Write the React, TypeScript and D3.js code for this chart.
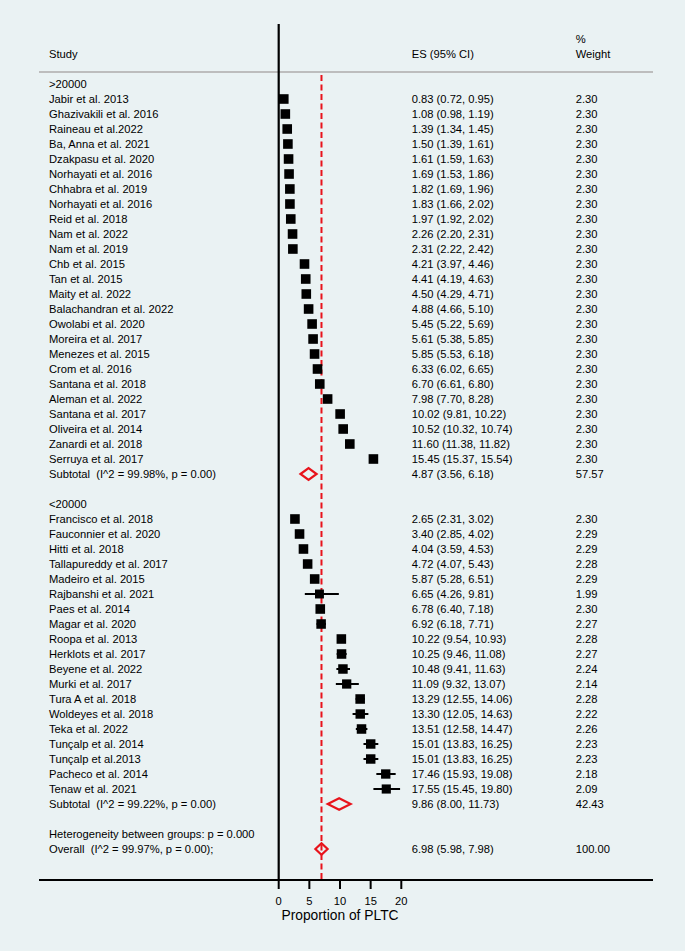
import React from "react";
import * as d3 from "d3";

const group1Label = ">20000";
const group1Studies = [
  "Jabir et al. 2013", "Ghazivakili et al. 2016", "Raineau et al.2022", "Ba, Anna et al. 2021",
  "Dzakpasu et al. 2020", "Norhayati et al. 2016", "Chhabra et al. 2019", "Norhayati et al. 2016",
  "Reid et al. 2018", "Nam et al. 2022", "Nam et al. 2019", "Chb et al. 2015", "Tan et al. 2015",
  "Maity et al. 2022", "Balachandran et al. 2022", "Owolabi et al. 2020", "Moreira et al. 2017",
  "Menezes et al. 2015", "Crom et al. 2016", "Santana et al. 2018", "Aleman et al. 2022",
  "Santana et al. 2017", "Oliveira et al. 2014", "Zanardi et al. 2018", "Serruya et al. 2017",
];
const group1ES = [0.83, 1.08, 1.39, 1.50, 1.61, 1.69, 1.82, 1.83, 1.97, 2.26, 2.31, 4.21, 4.41, 4.50, 4.88, 5.45, 5.61, 5.85, 6.33, 6.70, 7.98, 10.02, 10.52, 11.60, 15.45];
const group1Lo = [0.72, 0.98, 1.34, 1.39, 1.59, 1.53, 1.69, 1.66, 1.92, 2.20, 2.22, 3.97, 4.19, 4.29, 4.66, 5.22, 5.38, 5.53, 6.02, 6.61, 7.70, 9.81, 10.32, 11.38, 15.37];
const group1Hi = [0.95, 1.19, 1.45, 1.61, 1.63, 1.86, 1.96, 2.02, 2.02, 2.31, 2.42, 4.46, 4.63, 4.71, 5.10, 5.69, 5.85, 6.18, 6.65, 6.80, 8.28, 10.22, 10.74, 11.82, 15.54];
const group1Weight = [2.30, 2.30, 2.30, 2.30, 2.30, 2.30, 2.30, 2.30, 2.30, 2.30, 2.30, 2.30, 2.30, 2.30, 2.30, 2.30, 2.30, 2.30, 2.30, 2.30, 2.30, 2.30, 2.30, 2.30, 2.30];
const group1Subtotal = { label: "Subtotal  (I^2 = 99.98%, p = 0.00)", es: 4.87, lo: 3.56, hi: 6.18, w: 57.57 };

const group2Label = "<20000";
const group2Studies = [
  "Francisco et al. 2018", "Fauconnier et al. 2020", "Hitti et al. 2018", "Tallapureddy et al. 2017",
  "Madeiro et al. 2015", "Rajbanshi et al. 2021", "Paes et al. 2014", "Magar et al. 2020",
  "Roopa et al. 2013", "Herklots et al. 2017", "Beyene et al. 2022", "Murki et al. 2017",
  "Tura A et al. 2018", "Woldeyes et al. 2018", "Teka et al. 2022", "Tunçalp et al. 2014",
  "Tunçalp et al.2013", "Pacheco et al. 2014", "Tenaw et al. 2021",
];
const group2ES = [2.65, 3.40, 4.04, 4.72, 5.87, 6.65, 6.78, 6.92, 10.22, 10.25, 10.48, 11.09, 13.29, 13.30, 13.51, 15.01, 15.01, 17.46, 17.55];
const group2Lo = [2.31, 2.85, 3.59, 4.07, 5.28, 4.26, 6.40, 6.18, 9.54, 9.46, 9.41, 9.32, 12.55, 12.05, 12.58, 13.83, 13.83, 15.93, 15.45];
const group2Hi = [3.02, 4.02, 4.53, 5.43, 6.51, 9.81, 7.18, 7.71, 10.93, 11.08, 11.63, 13.07, 14.06, 14.63, 14.47, 16.25, 16.25, 19.08, 19.80];
const group2Weight = [2.30, 2.29, 2.29, 2.28, 2.29, 1.99, 2.30, 2.27, 2.28, 2.27, 2.24, 2.14, 2.28, 2.22, 2.26, 2.23, 2.23, 2.18, 2.09];
const group2Subtotal = { label: "Subtotal  (I^2 = 99.22%, p = 0.00)", es: 9.86, lo: 8.00, hi: 11.73, w: 42.43 };

const heterogeneityText = "Heterogeneity between groups: p = 0.000";
const overall = { label: "Overall  (I^2 = 99.97%, p = 0.00);", es: 6.98, lo: 5.98, hi: 7.98, w: 100.0 };

const xTicks = [0, 5, 10, 15, 20];
const xTitle = "Proportion of PLTC";

type Row =
  | { kind: "label"; text: string }
  | { kind: "study"; text: string; es: number; lo: number; hi: number; w: number }
  | { kind: "diamond"; text: string; es: number; lo: number; hi: number; w: number }
  | { kind: "blank" };

function buildRows(): Row[] {
  const rows: Row[] = [];
  rows.push({ kind: "label", text: group1Label });
  group1Studies.forEach((s, i) =>
    rows.push({ kind: "study", text: s, es: group1ES[i], lo: group1Lo[i], hi: group1Hi[i], w: group1Weight[i] })
  );
  rows.push({ kind: "diamond", text: group1Subtotal.label, es: group1Subtotal.es, lo: group1Subtotal.lo, hi: group1Subtotal.hi, w: group1Subtotal.w });
  rows.push({ kind: "blank" });
  rows.push({ kind: "label", text: group2Label });
  group2Studies.forEach((s, i) =>
    rows.push({ kind: "study", text: s, es: group2ES[i], lo: group2Lo[i], hi: group2Hi[i], w: group2Weight[i] })
  );
  rows.push({ kind: "diamond", text: group2Subtotal.label, es: group2Subtotal.es, lo: group2Subtotal.lo, hi: group2Subtotal.hi, w: group2Subtotal.w });
  rows.push({ kind: "blank" });
  rows.push({ kind: "label", text: heterogeneityText });
  rows.push({ kind: "diamond", text: overall.label, es: overall.es, lo: overall.lo, hi: overall.hi, w: overall.w });
  return rows;
}

export default function App() {
  const W = 685;
  const H = 951;
  const rows = buildRows();
  const x = d3.scaleLinear().domain([0, 20]).range([278.7, 401.3]);
  const y = d3.scaleLinear().domain([0, 1]).range([84, 99]);
  const font = "'Liberation Sans', Arial, Helvetica, sans-serif";
  const fs = 11.2;
  const textX = 49;
  const esX = 411.7;
  const wX = 575.7;
  const axisY = 880;
  const red = "#e8131b";
  const baseSide = 9.6;
  const fmt = d3.format(".2f");

  return (
    <svg
      width={W}
      height={H}
      style={{ position: "absolute", left: 0, top: 0, display: "block" }}
      fontFamily={font}
    >
      <rect x={0} y={0} width={W} height={H} fill="#eaf2f3" />
      {/* header */}
      <text x={textX} y={58} fontSize={fs} fill="#000">Study</text>
      <text x={esX} y={58} fontSize={fs} fill="#000">ES (95% CI)</text>
      <text x={wX} y={43} fontSize={fs} fill="#000">%</text>
      <text x={wX} y={58} fontSize={fs} fill="#000">Weight</text>
      <line x1={39} x2={653} y1={72} y2={72} stroke="#bdbdbd" strokeWidth={2} />

      {/* null line (x=0) */}
      <line x1={x(0)} x2={x(0)} y1={24} y2={axisY} stroke="#000" strokeWidth={2.2} />
      {/* overall dashed line */}
      <line x1={x(overall.es)} x2={x(overall.es)} y1={75} y2={axisY} stroke={red} strokeWidth={2} strokeDasharray="6,3.5" />

      {rows.map((r, i) => {
        const cy = y(i);
        const ty = cy + 4;
        if (r.kind === "blank") return null;
        if (r.kind === "label") {
          return (
            <text key={i} x={textX} y={ty} fontSize={fs} fill="#000">{r.text}</text>
          );
        }
        const esText = `${fmt(r.es)} (${fmt(r.lo)}, ${fmt(r.hi)})`;
        const common = (
          <>
            <text x={textX} y={ty} fontSize={fs} fill="#000" style={{ whiteSpace: "pre" }}>{r.text}</text>
            <text x={esX} y={ty} fontSize={fs} fill="#000">{esText}</text>
            <text x={wX} y={ty} fontSize={fs} fill="#000">{fmt(r.w)}</text>
          </>
        );
        if (r.kind === "study") {
          const side = baseSide * Math.sqrt(r.w / 2.3);
          return (
            <g key={i}>
              {common}
              <line x1={x(r.lo)} x2={x(r.hi)} y1={cy} y2={cy} stroke="#000" strokeWidth={2} />
              <rect x={x(r.es) - side / 2} y={cy - side / 2} width={side} height={side} fill="#000" />
            </g>
          );
        }
        const hh = 5.8;
        const pts = [
          [x(r.lo), cy],
          [x(r.es), cy - hh],
          [x(r.hi), cy],
          [x(r.es), cy + hh],
        ];
        return (
          <g key={i}>
            {common}
            <polygon points={pts.map((p) => p.join(",")).join(" ")} fill="none" stroke={red} strokeWidth={2.2} strokeLinejoin="miter" />
          </g>
        );
      })}

      {/* x axis */}
      <line x1={39} x2={653} y1={axisY} y2={axisY} stroke="#000" strokeWidth={2} />
      {xTicks.map((t) => (
        <g key={t}>
          <line x1={x(t)} x2={x(t)} y1={axisY} y2={axisY + 9} stroke="#000" strokeWidth={2} />
          <text x={x(t)} y={905} fontSize={fs} textAnchor="middle" fill="#000">{t}</text>
        </g>
      ))}
      <text x={x(10)} y={920} fontSize={13.8} textAnchor="middle" fill="#000">{xTitle}</text>
    </svg>
  );
}
